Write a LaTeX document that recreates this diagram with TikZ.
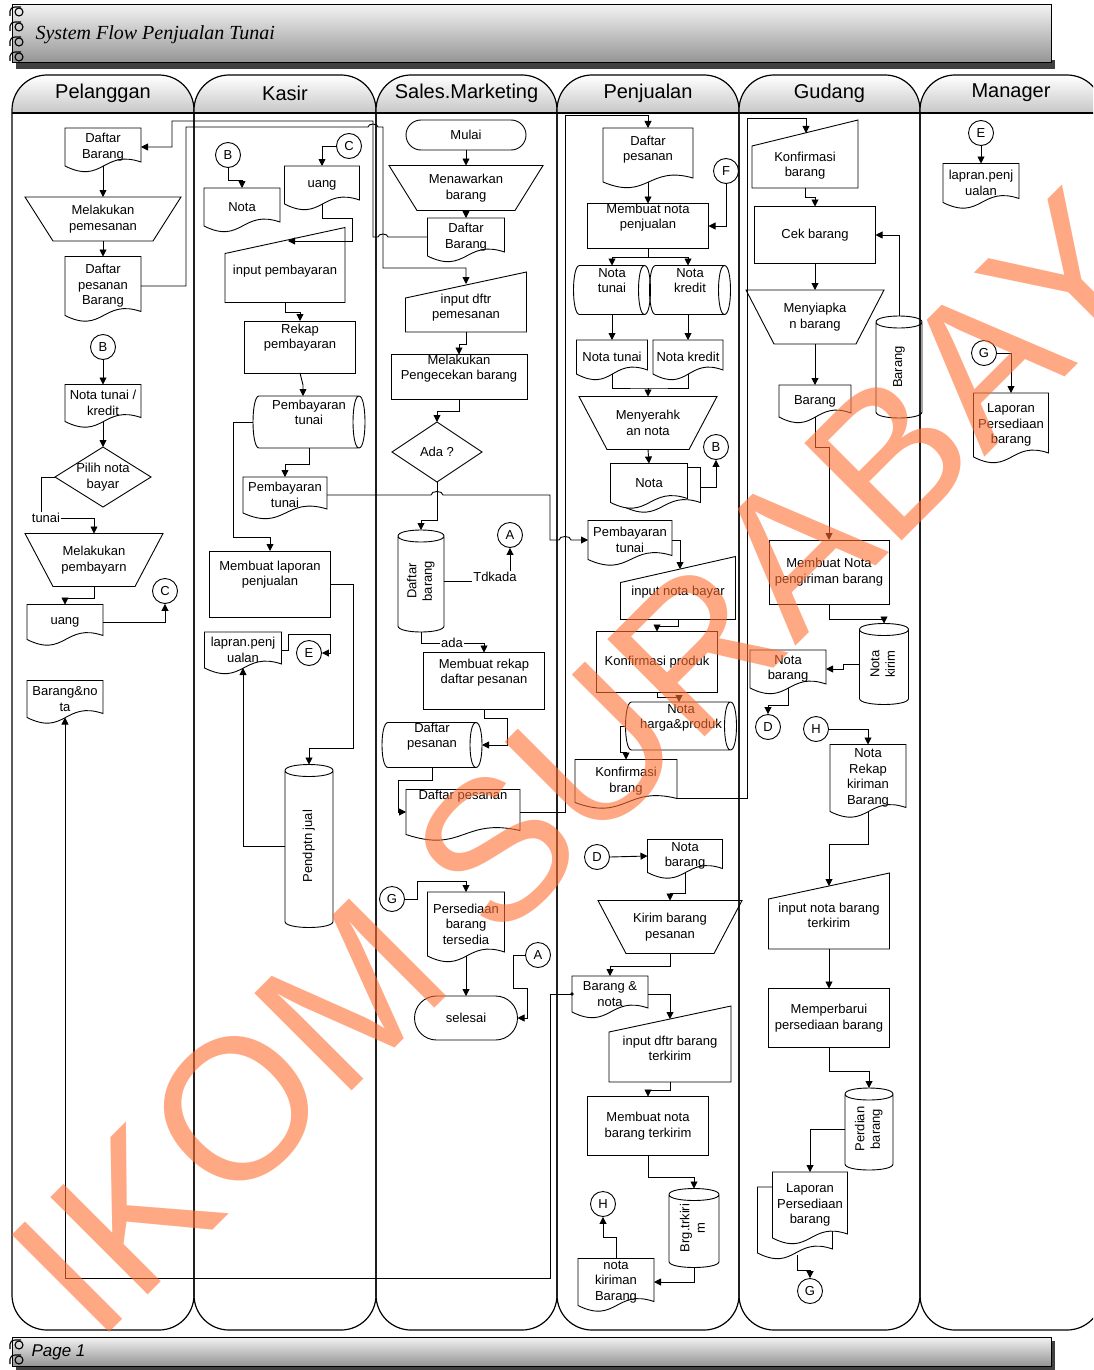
\documentclass[tikz,border=0pt]{standalone}
\usepackage{fontspec}
\usepackage{graphicx}
\setmainfont{Liberation Sans}
\newfontfamily\titleserif{Liberation Serif}
\usetikzlibrary{arrows.meta, shapes.misc}
\definecolor{wmark}{RGB}{255,110,50}

% text moved up (+) or down (-) inside its shape
\newcommand\mvtext[2]{\raisebox{#1}[\height][\depth]{\begin{tabular}{@{}c@{}}#2\end{tabular}}}
% text turned upright inside a disk
\newcommand\rottext[1]{\rotatebox{90}{\begin{tabular}{@{}c@{}}#1\end{tabular}}}

% flowchart outlines, drawn round a node that has no border of its own
\newcommand\docline[3]{([xshift=#2,yshift=#3]#1.north west) -- ([xshift=#2,yshift=#3]#1.north east)
  -- ([xshift=#2,yshift=#3,yshift=4pt]#1.south east)
  .. controls ([xshift=#2,yshift=#3,yshift=17pt]#1.south) and ([xshift=#2,yshift=#3,yshift=-19pt]#1.south)
  .. ([xshift=#2,yshift=#3]#1.south west) -- cycle}
\newcommand\manopline[1]{(#1.north west) -- (#1.north east) -- ([xshift=-28pt]#1.south east) -- ([xshift=28pt]#1.south west) -- cycle}
\newcommand\maninline[1]{([yshift=-26pt]#1.north west) -- (#1.north east) -- (#1.south east) -- (#1.south west) -- cycle}
\newcommand\hcylline[1]{([xshift=6pt]#1.north west) -- ([xshift=-6pt]#1.north east)
  .. controls ([xshift=2pt]#1.north east) and ([xshift=2pt]#1.south east) .. ([xshift=-6pt]#1.south east)
  -- ([xshift=6pt]#1.south west)
  .. controls ([xshift=-2pt]#1.south west) and ([xshift=-2pt]#1.north west) .. ([xshift=6pt]#1.north west)
  ([xshift=-6pt]#1.north east) .. controls ([xshift=-14pt]#1.north east) and ([xshift=-14pt]#1.south east) .. ([xshift=-6pt]#1.south east)}
\newcommand\vcylline[1]{([yshift=-6pt]#1.north west) -- ([yshift=6pt]#1.south west)
  .. controls ([yshift=-2pt]#1.south west) and ([yshift=-2pt]#1.south east) .. ([yshift=6pt]#1.south east)
  -- ([yshift=-6pt]#1.north east)
  .. controls ([yshift=2pt]#1.north east) and ([yshift=2pt]#1.north west) .. ([yshift=-6pt]#1.north west)
  .. controls ([yshift=-14pt]#1.north west) and ([yshift=-14pt]#1.north east) .. ([yshift=-6pt]#1.north east)}
\newcommand\decline[1]{(#1.north) -- (#1.east) -- (#1.south) -- (#1.west) -- cycle}

\begin{document}
\begin{tikzpicture}[x=1pt, y=-1pt,
    shp/.style={line width=0.9pt},
    box/.style={font=\fontsize{13}{15.5}\selectfont, align=center, inner sep=1pt, outer sep=0pt},
    proc/.style={box, draw, shp},
    docu/.style={box, append after command={\pgfextra{\draw[shp] \docline{\tikzlastnode}{0pt}{0pt};}}},
    mdoc/.style 2 args={box, append after command={\pgfextra{
        \draw[shp, fill=white] \docline{\tikzlastnode}{#1}{#2};
        \draw[shp, fill=white] \docline{\tikzlastnode}{0pt}{0pt};}}},
    manop/.style={box, append after command={\pgfextra{\draw[shp] \manopline{\tikzlastnode};}}},
    manin/.style={box, append after command={\pgfextra{\draw[shp] \maninline{\tikzlastnode};}}},
    hcyl/.style={box, append after command={\pgfextra{\draw[shp] \hcylline{\tikzlastnode};}}},
    vcyl/.style={box, append after command={\pgfextra{\draw[shp] \vcylline{\tikzlastnode};}}},
    decis/.style={box, append after command={\pgfextra{\draw[shp] \decline{\tikzlastnode};}}},
    term/.style={box, draw, shp, rounded rectangle},
    conn/.style={draw, shp, circle, minimum size=25pt, inner sep=0pt, font=\fontsize{13}{15}\selectfont},
    lbl/.style={font=\fontsize{13}{15}\selectfont, inner sep=1pt},
    ln/.style={line width=0.9pt},
    arw/.style={ln, -{Triangle[length=7pt, width=7pt]}},
    lane/.style={line width=1.2pt},
    lanehead/.style={font=\fontsize{20}{24}\selectfont},
    bar/.style={top color=black!5, bottom color=black!42, draw=black, line width=1pt}
]
\useasboundingbox (0,0) rectangle (1093,1370);
\clip (0,0) rectangle (1093,1370);
\fill[white] (0,0) rectangle (1093,1370);

% title and page bars
\fill[black!75] (16,60) rectangle (1055,69);
\shade[bar] (12,5) rectangle (1051,63);
\node[anchor=west, font=\titleserif\itshape\fontsize{20}{24}\selectfont] (title) at (32,35) {System Flow Penjualan Tunai};
\fill[black!75] (16,1341) rectangle (1055,1370);
\shade[bar] (12,1337) rectangle (1051,1366);
\node[anchor=west, font=\itshape\fontsize{17}{20}\selectfont] (page) at (28,1352) {Page 1};
\foreach \ry in {12,27,42,57,1345,1360}{
  \draw[line width=1.1pt] (19,\ry) circle (4pt);
  \draw[line width=1.1pt] (10,{\ry+4}) -- (10,{\ry-1}) to[out=90,in=180] (15,{\ry-5}) -- (21,{\ry-5});
}

% swimlanes
\foreach \xa/\xb/\lname [count=\i] in {12/194/Pelanggan, 194/376/Kasir, 376/557/Sales.Marketing, 557/739/Penjualan, 739/920/Gudang, 920/1102/Manager}{
  \shade[top color=white, bottom color=black!22] (\xa,113) -- (\xa,110) arc (180:270:35) -- ({\xb-35},75) arc (270:360:35) -- (\xb,113) -- cycle;
  \draw[lane] (\xa,110) arc (180:270:35) -- ({\xb-35},75) arc (270:360:35) -- (\xb,1295) arc (0:90:35) -- ({\xa+35},1330) arc (90:180:35) -- cycle;
  \draw[lane] (\xa,113) -- (\xb,113);
  \node[lanehead] (lane\i) at ({(\xa+\xb)/2},93) {\lname};
}

% Pelanggan
\node[docu, minimum width=76pt, minimum height=38pt] (pDaftarBrg) at (103,147) {Daftar\\Barang};
\node[manop, minimum width=156pt, minimum height=44pt] (pPesan) at (103,219) {Melakukan\\pemesanan};
\node[docu, minimum width=76pt, minimum height=59pt] (pDaftarPsn) at (103,286) {Daftar\\pesanan\\Barang};
\node[conn] (pB) at (103,347) {B};
\node[docu, minimum width=76pt, minimum height=37pt] (pNotaTK) at (103,403) {Nota tunai /\\kredit};
\node[decis, minimum width=96pt, minimum height=60pt] (pPilih) at (103,477) {Pilih nota\\bayar};
\node[lbl] (pTunai) at (46,518) {tunai};
\node[manop, minimum width=138pt, minimum height=53pt] (pBayar) at (94,560) {Melakukan\\pembayarn};
\node[docu, minimum width=76pt, minimum height=35pt] (pUang) at (65,622) {uang};
\node[conn] (pC) at (165,591) {C};
\node[docu, minimum width=76pt, minimum height=37pt] (pBrgNota) at (65,699) {Barang\&no\\ta};

% Kasir
\node[conn] (kB) at (228,155) {B};
\node[docu, minimum width=76pt, minimum height=38pt] (kNota) at (242,207) {Nota};
\node[conn] (kC) at (349,146) {C};
\node[docu, minimum width=75pt, minimum height=38pt] (kUang) at (322,185) {uang};
\node[manin, minimum width=120pt, minimum height=75pt] (kInput) at (285,265) {\mvtext{-6pt}{input pembayaran}};
\node[proc, minimum width=111pt, minimum height=52pt] (kRekap) at (300,347) {\mvtext{9pt}{Rekap\\pembayaran}};
\node[hcyl, minimum width=112pt, minimum height=52pt] (kStored) at (309,422) {\mvtext{8pt}{Pembayaran\\tunai}};
\node[docu, minimum width=84pt, minimum height=36pt] (kPbyDoc) at (285,495) {Pembayaran\\tunai};
\node[proc, minimum width=121pt, minimum height=66pt] (kLaporan) at (270,584) {\mvtext{9pt}{Membuat laporan\\penjualan}};
\node[docu, minimum width=77pt, minimum height=36pt] (kLapDoc) at (243,650) {lapran.penj\\ualan};
\node[conn] (kE) at (309,653) {E};
\node[vcyl, minimum width=48pt, minimum height=163pt] (kPendptn) at (309,846) {\rottext{Pendptn jual}};

% Sales.Marketing
\node[term, minimum width=122pt, minimum height=30pt] (sMulai) at (466,135) {Mulai};
\node[manop, minimum width=154pt, minimum height=45pt] (sMenawarkan) at (466,188) {Menawarkan\\barang};
\node[docu, minimum width=77pt, minimum height=38pt] (sDaftarBrg) at (466,237) {Daftar\\Barang};
\node[manin, minimum width=121pt, minimum height=60pt] (sInput) at (466,302) {\mvtext{-6pt}{input dftr\\pemesanan}};
\node[proc, minimum width=136pt, minimum height=45pt] (sCek) at (459,377) {\mvtext{8pt}{Melakukan\\Pengecekan barang}};
\node[decis, minimum width=90pt, minimum height=60pt] (sAda) at (437,452) {Ada ?};
\node[vcyl, minimum width=46pt, minimum height=102pt] (sDaftarCyl) at (421,581) {\rottext{Daftar\\barang}};
\node[lbl] (sTdk) at (495,577) {Tdkada};
\node[conn] (sA) at (510,535) {A};
\node[lbl] (sAdaLbl) at (452,643) {ada};
\node[proc, minimum width=121pt, minimum height=57pt] (sRekap) at (484,681) {\mvtext{8pt}{Membuat rekap\\daftar pesanan}};
\node[hcyl, minimum width=100pt, minimum height=45pt] (sDaftarPsn) at (432,745) {\mvtext{8pt}{Daftar\\pesanan}};
\node[docu, minimum width=114pt, minimum height=45pt] (sDaftarDoc) at (463,812) {\mvtext{16pt}{Daftar pesanan}};
\node[conn] (sG) at (392,899) {G};
\node[docu, minimum width=77pt, minimum height=64pt] (sPersediaan) at (466,924) {Persediaan\\barang\\tersedia};
\node[conn] (sA2) at (538,955) {A};
\node[term, minimum width=105pt, minimum height=44pt] (sSelesai) at (466,1018) {selesai};

% Penjualan
\node[docu, minimum width=90pt, minimum height=54pt] (jDaftarPsn) at (648,155) {\mvtext{5pt}{Daftar\\pesanan}};
\node[conn] (jF) at (726,171) {F};
\node[proc, minimum width=121pt, minimum height=45pt] (jMembuat) at (648,226) {\mvtext{8pt}{Membuat nota\\penjualan}};
\node[hcyl, minimum width=77pt, minimum height=49pt] (jNotaTunaiCyl) at (612,290) {\mvtext{8pt}{Nota\\tunai}};
\node[hcyl, minimum width=81pt, minimum height=49pt] (jNotaKreditCyl) at (690,290) {\mvtext{8pt}{Nota\\kredit}};
\node[docu, minimum width=71pt, minimum height=34pt] (jNotaTunaiDoc) at (612,357) {Nota tunai};
\node[docu, minimum width=70pt, minimum height=34pt] (jNotaKreditDoc) at (688,357) {Nota kredit};
\coordinate (jMerge) at (648,388);
\node[manop, minimum width=138pt, minimum height=53pt] (jMenyerahkan) at (648,423) {Menyerahk\\an nota};
\node[mdoc={13pt}{-4pt}, minimum width=77pt, minimum height=39pt] (jNota) at (649,483) {Nota};
\node[conn] (jB) at (716,447) {B};
\node[docu, minimum width=84pt, minimum height=39pt] (jPbyDoc) at (630,540) {Pembayaran\\tunai};
\node[manin, minimum width=115pt, minimum height=63pt] (jInput) at (678,588) {\mvtext{-4pt}{input nota bayar}};
\coordinate (jInTop) at (680,569);
\node[proc, minimum width=121pt, minimum height=61pt] (jKonfirm) at (657,662) {Konfirmasi produk};
\node[hcyl, minimum width=111pt, minimum height=48pt] (jNotaHP) at (681,726) {\mvtext{8pt}{Nota\\harga\&produk}};
\node[docu, minimum width=102pt, minimum height=43pt] (jKonfBrg) at (626,781) {Konfirmasi\\brang};
\node[conn] (jD) at (597,857) {D};
\node[docu, minimum width=75pt, minimum height=33pt] (jNotaBrg) at (685,856) {Nota\\barang};
\node[manop, minimum width=144pt, minimum height=53pt] (jKirim) at (670,927) {Kirim barang\\pesanan};
\node[docu, minimum width=76pt, minimum height=36pt] (jBrgNota) at (610,994) {Barang \&\\nota};
\node[manin, minimum width=122pt, minimum height=76pt] (jInputDftr) at (670,1044) {\mvtext{-6pt}{input dftr barang\\terkirim}};
\coordinate (jInDftrTop) at (670,1019);
\node[proc, minimum width=121pt, minimum height=59pt] (jMembuatNota) at (648,1126) {Membuat nota\\barang terkirim};
\node[vcyl, minimum width=50pt, minimum height=79pt] (jBrgCyl) at (694,1228) {\rottext{Brg.trkiri\\m}};
\node[conn] (jH) at (603,1204) {H};
\node[docu, minimum width=76pt, minimum height=47pt] (jNotaKirim) at (616,1282) {nota\\kiriman\\Barang};

% Gudang
\node[manin, minimum width=106pt, minimum height=68pt] (gKonf) at (805,154) {\mvtext{-12pt}{Konfirmasi\\barang}};
\coordinate (gKonfTop) at (806,133);
\node[proc, minimum width=121pt, minimum height=57pt] (gCek) at (815,235) {Cek barang};
\node[manop, minimum width=138pt, minimum height=54pt] (gMenyiapkan) at (815,317) {Menyiapka\\n barang};
\node[vcyl, minimum width=46pt, minimum height=102pt] (gBarangCyl) at (899,367) {\rottext{Barang}};
\node[docu, minimum width=72pt, minimum height=32pt] (gBarangDoc) at (815,401) {Barang};
\node[proc, minimum width=120pt, minimum height=64pt] (gMembuatNota) at (829,572) {Membuat Nota\\pengiriman barang};
\node[vcyl, minimum width=49pt, minimum height=81pt] (gNotaKirimCyl) at (884,664) {\rottext{Nota\\kirim}};
\node[docu, minimum width=76pt, minimum height=38pt] (gNotaBrg) at (788,669) {Nota\\barang};
\node[conn] (gD) at (768,727) {D};
\node[conn] (gH) at (816,729) {H};
\node[docu, minimum width=76pt, minimum height=67pt] (gNotaRekap) at (868,778) {Nota\\Rekap\\kiriman\\Barang};
\node[manin, minimum width=121pt, minimum height=76pt] (gInputNota) at (829,911) {\mvtext{-6pt}{input nota barang\\terkirim}};
\coordinate (gInTop) at (829,886);
\node[proc, minimum width=121pt, minimum height=59pt] (gMemperbarui) at (829,1018) {Memperbarui\\persediaan barang};
\node[vcyl, minimum width=48pt, minimum height=82pt] (gPerdianCyl) at (869,1129) {\rottext{Perdian\\barang}};
\node[mdoc={-15pt}{-15pt}, minimum width=75pt, minimum height=66pt] (gLaporan) at (810,1205) {Laporan\\Persediaan\\barang};
\node[conn] (gG) at (810,1291) {G};

% Manager
\node[conn] (mE) at (981,133) {E};
\node[docu, minimum width=76pt, minimum height=39pt] (mLapDoc) at (981,183) {lapran.penj\\ualan};
\node[conn] (mG) at (984,353) {G};
\node[docu, minimum width=75pt, minimum height=64pt] (mLaporan) at (1011,425) {Laporan\\Persediaan\\barang};

% connectors, Pelanggan
\draw[arw] (pDaftarBrg.south) -- (pPesan.north);
\draw[arw] (pPesan.south) -- (pDaftarPsn.north);
\draw[arw] (pB.south) -- (pNotaTK.north);
\draw[arw] (pNotaTK.south) -- (pPilih.north);
\draw[ln] (pPilih.west) -| ([xshift=-5pt]pTunai.north);
\draw[arw] (pTunai.east) -| (pBayar.north);
\draw[arw] (pBayar.south) |- (65,598) -- (pUang.north);
\draw[arw] (pUang.east) -| (pC.south);

% connectors, Kasir
\draw[arw] (kB.south) |- (242,180) -- (kNota.north);
\draw[arw] (kC.west) -| (kUang.north);
\draw[arw] (kUang.south) |- (352,218) |- (288,241);
\draw[arw] (kInput.south) |- (300,312) -- (kRekap.north);
\draw[arw] (kRekap.south) -- (303,385) -- (kStored.north -| 303,0);
\draw[arw] (kStored.south) |- (285,464) -- (kPbyDoc.north);
\draw[arw] (kStored.west) -| (233,537) -| (kLaporan.north);
\draw[arw] (kPbyDoc.east) -- (431,495) to[out=90,in=90] (443,495) -| (550,540) -- (559,540) to[out=90,in=90] (571,540) -- (jPbyDoc.west);
\draw[arw] (kLaporan.east) -| (353,748) -| (kPendptn.north);
\draw[arw] (kPendptn.west) -| (kLapDoc.south);
\draw[arw] (kLapDoc.east) -- (288,650) |- (330,634) |- (kE.east);

% connectors, Sales.Marketing
\draw[arw] (sMulai.south) -- (sMenawarkan.north);
\draw[arw] (sMenawarkan.south) -- (sDaftarBrg.north);
\draw[arw] (sDaftarBrg.west) -- (388,237) to[out=90,in=90] (378,237) -| (373,121) -- (172,121) |- (pDaftarBrg.east);
\draw[arw] (pDaftarPsn.east) -| (186,127) -- (368,127) to[out=90,in=90] (378,127) -| (383,268) -| (466,284);
\draw[arw] (sInput.south) |- (459,344) -- (sCek.north);
\draw[arw] (sCek.south) |- (437,411) -- (sAda.north);
\draw[arw] (sAda.south) -- (437,520) -| (sDaftarCyl.north);
\draw[ln] (sDaftarCyl.east |- sTdk.base) -- (sTdk.base west);
\draw[arw] (sTdk.north -| sA.south) -- (sA.south);
\draw[ln] (sDaftarCyl.south) |- (sAdaLbl.west);
\draw[arw] (sAdaLbl.east) -| (sRekap.north);
\draw[arw] (sRekap.south) |- (507,718) |- (sDaftarPsn.east);
\draw[arw] (sDaftarPsn.south) |- (398,780) |- (sDaftarDoc.west);
\draw[arw] (sDaftarDoc.east) -| (565,115) -| (jDaftarPsn.north);
\draw[arw] (sG.east) -| (417,881) -| (sPersediaan.north);
\draw[arw] (sPersediaan.south) -- (sSelesai.north);
\draw[arw] (sA2.west) -| (513,988) -| (527,1018) -- (sSelesai.east);

% connectors, Penjualan
\draw[arw] (jDaftarPsn.south) -- (jMembuat.north);
\draw[arw] (jF.south) |- (jMembuat.east);
\draw[arw] (jMembuat.south) |- (612,257) -- (jNotaTunaiCyl.north);
\draw[arw] (jMembuat.south) |- (688,257) -- (jNotaKreditCyl.north -| 688,0);
\draw[arw] (jNotaTunaiCyl.south) -- (jNotaTunaiDoc.north);
\draw[arw] (jNotaKreditCyl.south -| 688,0) -- (jNotaKreditDoc.north);
\draw[ln] (jNotaTunaiDoc.south) |- (jMerge) -| (jNotaKreditDoc.south);
\draw[arw] (jMerge) -- (jMenyerahkan.north);
\draw[arw] (jMenyerahkan.south) -- (jNota.north);
\draw[arw] ([xshift=13pt,yshift=-4pt]jNota.east) -| (jB.south);
\draw[arw] (jPbyDoc.east) -| (jInTop);
\draw[arw] (jInput.south) |- (657,626) -- (jKonfirm.north);
\draw[arw] (jKonfirm.south) |- (679,697) -- (jNotaHP.north -| 679,0);
\draw[arw] (jNotaHP.west) -| (620,752) -| (jKonfBrg.north);
\draw[arw] ([yshift=-17pt]jKonfBrg.east) -| (747,118) -| (gKonfTop);
\draw[arw] (jD.east) -- (jNotaBrg.west);
\draw[arw] (jNotaBrg.south) |- (670,893) -- (jKirim.north);
\draw[arw] (jKirim.south) |- (610,966) -- (jBrgNota.north);
\draw[arw] (jBrgNota.east) -| (jInDftrTop);
\draw[arw] (jInputDftr.south) |- (648,1090) -- (jMembuatNota.north);
\draw[arw] (jMembuatNota.south) |- (694,1177) -- (jBrgCyl.north);
\draw[arw] (jBrgCyl.south) |- (jNotaKirim.east);
\draw[arw] (jNotaKirim.north) |- (603,1237) -- (jH.south);
\fill (jBrgNota.west) circle (1.8pt);
\draw[arw] (jBrgNota.west) -| (550,1278) -| (pBrgNota.south);

% connectors, Gudang
\draw[arw] (gKonf.south) |- (815,197) -- (gCek.north);
\draw[arw] (gCek.south) -- (gMenyiapkan.north);
\draw[arw] (gMenyiapkan.south) -- (gBarangDoc.north);
\draw[arw] (gBarangCyl.north) |- (gCek.east);
\draw[arw] (gBarangDoc.south) |- (829,447) -- (gMembuatNota.north);
\draw[arw] (gMembuatNota.south) |- (884,619) -- (gNotaKirimCyl.north);
\draw[arw] (gNotaKirimCyl.west) -- (843,664) |- (gNotaBrg.east);
\draw[arw] (gNotaBrg.south) |- (768,705) -- (gD.north);
\draw[arw] (gH.east) -| (gNotaRekap.north);
\draw[arw] (gNotaRekap.south) |- (829,844) -- (gInTop);
\draw[arw] (gInputNota.south) -- (gMemperbarui.north);
\draw[arw] (gMemperbarui.south) |- (869,1071) -- (gPerdianCyl.north);
\draw[arw] (gPerdianCyl.west) -| (gLaporan.north);
\draw[arw] ([xshift=-13pt,yshift=-17pt]gLaporan.south) |- (810,1270) -- (gG.north);

% connectors, Manager
\draw[arw] (mE.south) -- (mLapDoc.north);
\draw[arw] (mG.east) -| (mLaporan.north);

% watermark
\node[rotate=45, text=wmark, text opacity=0.6, font=\fontsize{200}{200}\selectfont] (wm) at (623,722) {IKOM SURABAYA};
\end{tikzpicture}
\end{document}
